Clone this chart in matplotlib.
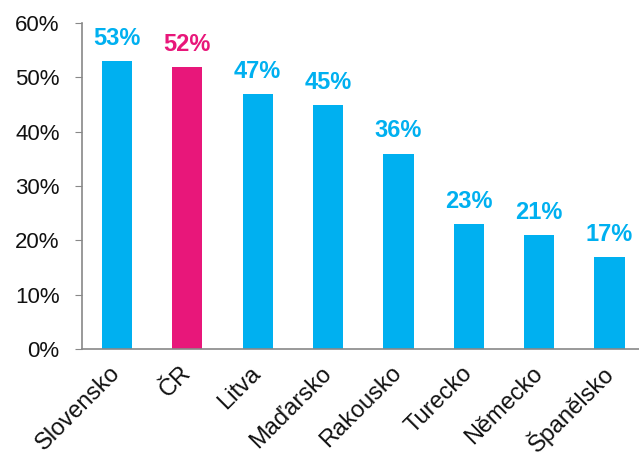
import numpy as np
import matplotlib
matplotlib.use("Agg")
from matplotlib import pyplot as plt

# Data
countries = ["Slovensko", "ČR", "Litva", "Maďarsko", "Rakousko", "Turecko", "Německo", "Španělsko"]
values = [53, 52, 47, 45, 36, 23, 21, 17]
highlight = "ČR"

blue = "#00B0F0"
pink = "#E8177A"
colors = [pink if c == highlight else blue for c in countries]

plt.rcParams['font.family'] = ['Liberation Sans', 'DejaVu Sans']

fig = plt.figure(figsize=(6.39, 4.54), dpi=100, facecolor='white')
ax = fig.add_axes([0.128, 0.231, 0.872, 0.718])

x = np.arange(len(countries))
ax.bar(x, values, width=0.43, color=colors)

for xi, v, c in zip(x, values, colors):
    ax.annotate(f"{v}%", (xi, v), xytext=(0, 8), textcoords="offset points",
                ha="center", va="bottom", fontsize=17, fontweight="bold", color=c)

ax.set_ylim(0, 60)
ax.set_xlim(-0.5, 7.42)
ax.set_yticks(range(0, 61, 10))
ax.set_yticklabels([f"{t}%" for t in range(0, 61, 10)], fontsize=16, color="#111111")
ax.set_xticks(x)
ax.set_xticklabels(countries, rotation=45, ha="right", va="center",
                   rotation_mode="anchor", fontsize=17, color="#111111")

for s in ["top", "right"]:
    ax.spines[s].set_visible(False)
for s in ["left", "bottom"]:
    ax.spines[s].set_color("#888888")
    ax.spines[s].set_linewidth(1.2)
ax.tick_params(axis="y", direction="out", length=5, color="#888888", pad=11)
ax.tick_params(axis="x", length=0, pad=15)

fig.savefig("out.png", dpi=100)
plt.close(fig)
